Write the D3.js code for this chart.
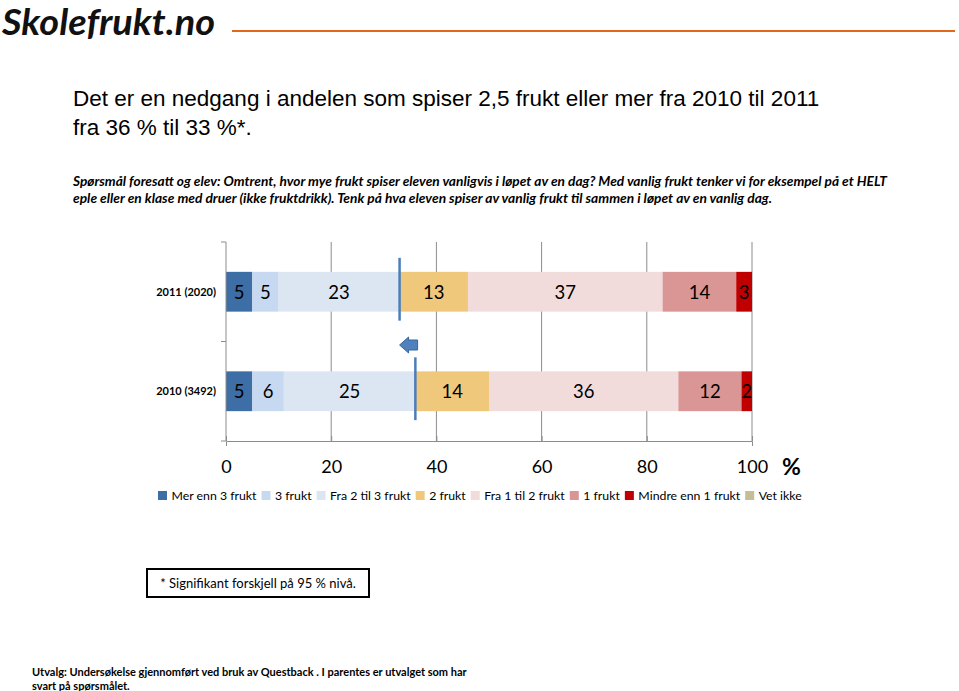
<!DOCTYPE html>
<html><head><meta charset="utf-8">
<script src="https://cdn.jsdelivr.net/npm/d3@7"></script>
<style>body{margin:0;background:#fff}svg{display:block}</style>
</head><body>
<svg id="c" width="959" height="691"></svg>
<script>
const categories = ["2011 (2020)", "2010 (3492)"];
const seriesNames = ["Mer enn 3 frukt","3 frukt","Fra 2 til 3 frukt","2 frukt","Fra 1 til 2 frukt","1 frukt","Mindre enn 1 frukt","Vet ikke"];
const seriesColors = ["#3e6ea6","#c6d9f0","#dce6f2","#f0c87c","#f2dcdb","#d99694","#c00000","#c4bd97"];
const values2011 = [5,5,23,13,37,14,3,0];
const values2010 = [5,6,25,14,36,12,2,0];
const markerValues = [33, 36];
const xTicks = [0,20,40,60,80,100];

const svg = d3.select("#c");
const F = "Lato, 'Open Sans', sans-serif";

// header
svg.append("text").attr("x",2).attr("y",35).attr("font-family",F).attr("font-size",36).attr("font-weight",700)
  .attr("font-style","italic").attr("fill","#111").attr("textLength",213).attr("lengthAdjust","spacingAndGlyphs").text("Skolefrukt.no");
svg.append("line").attr("x1",232).attr("x2",955).attr("y1",31).attr("y2",31).attr("stroke","#e2681c").attr("stroke-width",2);

svg.append("text").attr("x",73).attr("y",106).attr("font-family","'Liberation Sans', Arial, sans-serif").attr("font-size",22.5).attr("fill","#000")
  .text("Det er en nedgang i andelen som spiser 2,5 frukt eller mer fra 2010 til 2011");
svg.append("text").attr("x",73).attr("y",135).attr("font-family","'Liberation Sans', Arial, sans-serif").attr("font-size",22.5).attr("fill","#000")
  .text("fra 36 % til 33 %*.");

const q1 = "Spørsmål  foresatt og elev: Omtrent, hvor mye frukt spiser eleven vanligvis i løpet av en dag? Med vanlig frukt tenker vi for eksempel på et HELT";
const q2 = "eple eller en klase med druer (ikke fruktdrikk). Tenk på hva eleven spiser av vanlig frukt til sammen i løpet av en vanlig dag.";
svg.append("text").attr("x",73).attr("y",186).attr("font-family",F).attr("font-size",13).attr("font-weight",700).attr("font-style","italic")
  .attr("textLength",814).attr("lengthAdjust","spacingAndGlyphs").text(q1);
svg.append("text").attr("x",73).attr("y",203).attr("font-family",F).attr("font-size",13).attr("font-weight",700).attr("font-style","italic")
  .attr("textLength",699).attr("lengthAdjust","spacingAndGlyphs").text(q2);

// chart
const x = d3.scaleLinear().domain([0,100]).range([226,752]);
const y = d3.scaleBand().domain(categories).range([242,441]).paddingInner(0.6).paddingOuter(0.3);
const data = [values2011, values2010];

// gridlines
svg.append("g").selectAll("line").data(xTicks.slice(1)).join("line")
  .attr("x1",d=>x(d)).attr("x2",d=>x(d)).attr("y1",242).attr("y2",441).attr("stroke","#8c8c8c").attr("stroke-width",1);

// bars
categories.forEach((cat,ci)=>{
  const vals = data[ci];
  let cum = 0;
  const segs = vals.map((v,i)=>{const s={i,v,x0:cum,x1:cum+v}; cum+=v; return s;});
  const g = svg.append("g");
  g.selectAll("rect").data(segs.filter(s=>s.v>0)).join("rect")
    .attr("x",d=>x(d.x0)).attr("width",d=>x(d.x1)-x(d.x0))
    .attr("y",y(cat)).attr("height",y.bandwidth()).attr("fill",d=>seriesColors[d.i]);
  g.selectAll("text").data(segs.filter(s=>s.v>0)).join("text")
    .attr("x",d=>(x(d.x0)+x(d.x1))/2).attr("y",y(cat)+y.bandwidth()/2+7)
    .attr("text-anchor","middle").attr("font-family",F).attr("font-size",18.5).attr("fill","#000").text(d=>d.v);
  svg.append("text").attr("x",216).attr("y",y(cat)+y.bandwidth()/2+4).attr("text-anchor","end")
    .attr("font-family",F).attr("font-size",11).attr("font-weight",700).text(cat);
});

// markers
categories.forEach((cat,ci)=>{
  svg.append("line").attr("x1",x(markerValues[ci])).attr("x2",x(markerValues[ci]))
    .attr("y1",y(cat)-14).attr("y2",y(cat)+y.bandwidth()+9).attr("stroke","#4a7ebb").attr("stroke-width",2.5);
});
// arrow
const ax = x(markerValues[0]), ay = 345;
svg.append("path").attr("d",`M${ax},${ay} L${ax+9},${ay-8} L${ax+9},${ay-5} L${ax+18},${ay-5} L${ax+18},${ay+5} L${ax+9},${ay+5} L${ax+9},${ay+8} Z`)
  .attr("fill","#4f81bd").attr("stroke","#3a659a").attr("stroke-width",1);

// axes
svg.append("line").attr("x1",226).attr("x2",226).attr("y1",242).attr("y2",441).attr("stroke","#8c8c8c");
[242,341.5,441].forEach(t=>svg.append("line").attr("x1",221).attr("x2",226).attr("y1",t).attr("y2",t).attr("stroke","#8c8c8c"));
const xa = svg.append("g").attr("transform","translate(0,441)").call(d3.axisBottom(x).tickValues(xTicks).tickSize(5).tickPadding(14));
xa.select(".domain").attr("stroke","#8c8c8c");
xa.selectAll(".tick line").attr("stroke","#8c8c8c").attr("transform","translate(0,-5)").attr("y2",5);
xa.selectAll(".tick text").attr("font-family",F).attr("font-size",18).attr("fill","#000");
svg.append("text").attr("x",782).attr("y",475).attr("font-family",F).attr("font-size",23).attr("font-weight",700).text("%");

// legend
const lg = svg.append("g");
let lx = 158;
seriesNames.forEach((n,i)=>{
  lg.append("rect").attr("x",lx).attr("y",491).attr("width",9).attr("height",9).attr("fill",seriesColors[i]);
  const t = lg.append("text").attr("x",lx+13.5).attr("y",500).attr("font-family",F).attr("font-size",12.3).attr("fill","#000").text(n);
  lx += 13.5 + t.node().getComputedTextLength() + 5;
});

// note box
svg.append("rect").attr("x",147).attr("y",569).attr("width",222).attr("height",28).attr("fill","#fff").attr("stroke","#000").attr("stroke-width",2);
svg.append("text").attr("x",258).attr("y",588).attr("text-anchor","middle").attr("font-family",F).attr("font-size",13).text("* Signifikant forskjell på 95 % nivå.");

// footer
svg.append("text").attr("x",32).attr("y",676).attr("font-family",F).attr("font-size",11).attr("font-weight",700)
  .text("Utvalg: Undersøkelse gjennomført ved bruk av Questback . I parentes er utvalget som har");
svg.append("text").attr("x",32).attr("y",690).attr("font-family",F).attr("font-size",11).attr("font-weight",700)
  .text("svart på spørsmålet.");
</script>
</body></html>
